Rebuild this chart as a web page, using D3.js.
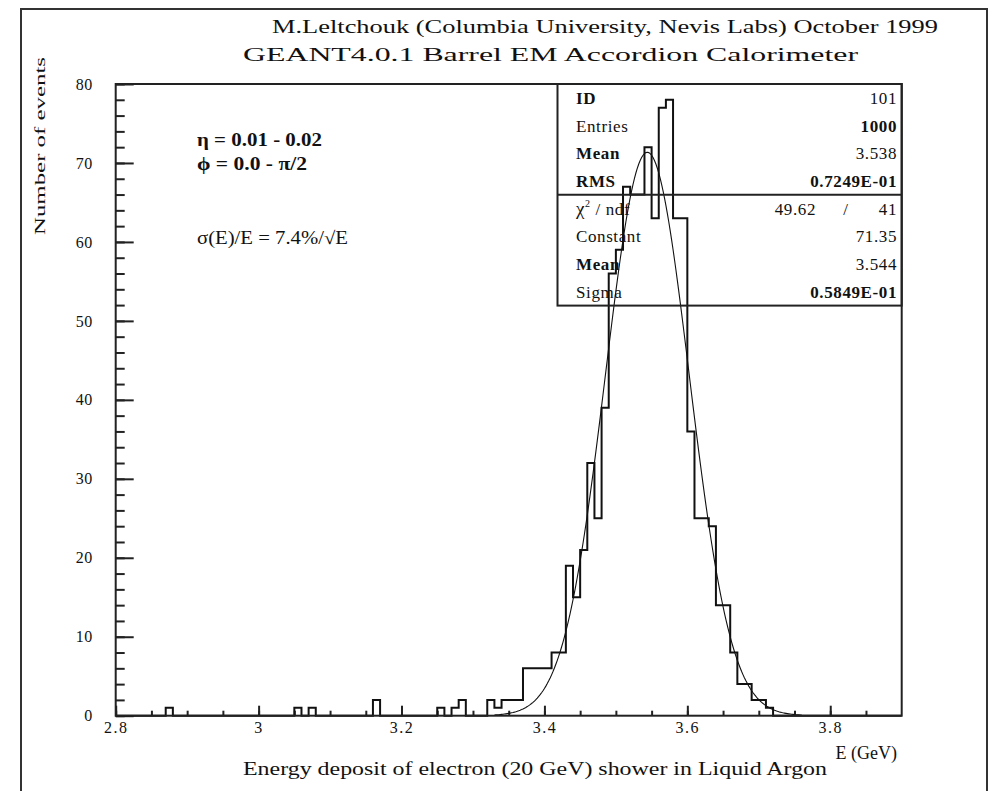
<!DOCTYPE html>
<html>
<head>
<meta charset="utf-8">
<title>GEANT4.0.1 Barrel EM Accordion Calorimeter</title>
<style>
  body { margin: 0; background: #fff; }
  svg text { font-family: "Liberation Serif", "DejaVu Serif", serif; fill: #111; }
  .frame { fill: none; stroke: #222; stroke-width: 2px; }
  .outer { fill: none; stroke: #333; stroke-width: 2px; }
  .hist { fill: none; stroke: #111; stroke-width: 2px; }
  .fit { fill: none; stroke: #111; stroke-width: 1.1px; }
  .tick line { stroke: #222; stroke-width: 2px; }
  .tick text { font-size: 16px; font-family: "Liberation Serif", serif; fill: #111; }
  .stat { font-size: 17px; letter-spacing: 0.6px; }
  .b { font-weight: bold; }
</style>
</head>
<body>
<svg width="1001" height="791"></svg>
<script src="https://d3js.org/d3.v7.min.js"></script>
<script>
// histogram: lower edge of each non empty bin (GeV), bin width 0.01 GeV
var binStart = [2.87, 3.05, 3.07, 3.16, 3.25, 3.27, 3.28,
                3.32, 3.33, 3.34, 3.35, 3.36, 3.37, 3.38, 3.39, 3.40,
                3.41, 3.42, 3.43, 3.44, 3.45, 3.46, 3.47, 3.48, 3.49,
                3.50, 3.51, 3.52, 3.53, 3.54, 3.55, 3.56, 3.57, 3.58,
                3.59, 3.60, 3.61, 3.62, 3.63, 3.64, 3.65, 3.66, 3.67,
                3.68, 3.69, 3.70, 3.71];
var binCount = [1, 1, 1, 2, 1, 1, 2,
                2, 1, 2, 2, 2, 6, 6, 6, 6,
                8, 8, 19, 15, 21, 32, 25, 39, 56,
                59, 67, 66, 66, 72, 63, 77, 78, 63,
                63, 36, 25, 25, 24, 14, 14, 8, 4,
                4, 2, 2, 1];

// gaussian fit as printed in the stats box: constant, mean, sigma
var fitPar = [71.35, 3.544, 0.05849];
var fitRange = [3.33, 3.76];

var xTicks = [2.8, 3, 3.2, 3.4, 3.6, 3.8];
var yTicks = [0, 10, 20, 30, 40, 50, 60, 70, 80];

// [label, value, label bold, value bold]
var statRows = [["ID", "101", 1, 0], ["Entries", "1000", 0, 1], ["Mean", "3.538", 1, 0], ["RMS", "0.7249E-01", 1, 1]];
var fitRows = [["Constant", "71.35", 0, 0], ["Mean", "3.544", 1, 0], ["Sigma", "0.5849E-01", 0, 1]];
var chi2Row = ["49.62", "/", "41"];

var svg = d3.select("svg");
svg.append("rect").attr("width", 1001).attr("height", 791).attr("fill", "#fff");

// outer picture border
svg.append("path").attr("class", "outer")
    .attr("d", "M21,791V9H987V791");

var x = d3.scaleLinear().domain([2.8, 3.9]).range([115.7, 901.7]);
var y = d3.scaleLinear().domain([0, 80]).range([715.7, 84]);

// minor ticks
svg.append("g")
    .attr("transform", "translate(0," + y(0) + ")")
    .call(d3.axisBottom(x).tickValues(d3.range(0, 22).map(function(i) { return 2.8 + i * 0.05; }))
        .tickSize(-5).tickFormat(""))
    .call(function(g) { g.select(".domain").remove(); });
svg.append("g")
    .attr("transform", "translate(" + x(2.8) + ",0)")
    .call(d3.axisLeft(y).tickValues(d3.range(0, 41).map(function(i) { return i * 2; }))
        .tickSize(-9).tickFormat(""))
    .call(function(g) { g.select(".domain").remove(); });

// major ticks and labels
var xAxis = svg.append("g")
    .attr("transform", "translate(0," + y(0) + ")")
    .call(d3.axisBottom(x).tickValues(xTicks).tickSize(-10).tickPadding(6)
        .tickFormat(d3.format("~g")));
xAxis.select(".domain").remove();
xAxis.selectAll("text").attr("letter-spacing", 1.5);

var yAxis = svg.append("g")
    .attr("transform", "translate(" + x(2.8) + ",0)")
    .call(d3.axisLeft(y).tickValues(yTicks).tickSize(-18).tickPadding(23));
yAxis.select(".domain").remove();
yAxis.selectAll("text").attr("letter-spacing", 0.5);

// histogram outline
var counts = d3.range(110).map(function() { return 0; });
binStart.forEach(function(e, i) { counts[Math.round((e - 2.8) / 0.01)] = binCount[i]; });
var pts = counts.map(function(c, k) { return [2.8 + k * 0.01, c]; });
pts.push([3.9, counts[109]]);
var step = d3.line().curve(d3.curveStepAfter)
    .x(function(d) { return x(d[0]); })
    .y(function(d) { return y(d[1]); });
svg.append("path").attr("class", "hist").attr("d", step(pts));

// fit curve
var gauss = function(e) {
    var z = (e - fitPar[1]) / fitPar[2];
    return fitPar[0] * Math.exp(-0.5 * z * z);
};
var fitPts = d3.range(fitRange[0], fitRange[1] + 1e-9, 0.002).map(function(e) { return [e, gauss(e)]; });
svg.append("path").attr("class", "fit")
    .attr("d", d3.line().x(function(d) { return x(d[0]); }).y(function(d) { return y(d[1]); })(fitPts));

// stats box
var bx0 = 557.5, bx1 = x(3.9), by0 = y(80), rowH = 27.7;
svg.append("rect").attr("fill", "none")
    .attr("x", bx0).attr("y", by0).attr("width", bx1 - bx0).attr("height", rowH * 8)
    .attr("stroke", "#222").attr("stroke-width", 2);
svg.append("line").attr("x1", bx0).attr("x2", bx1)
    .attr("y1", by0 + rowH * 4).attr("y2", by0 + rowH * 4)
    .attr("stroke", "#222").attr("stroke-width", 2);

var rows = statRows.concat([["χ2/ndf", "", 0, 0]], fitRows);
rows.forEach(function(r, i) {
    var yy = by0 + rowH * (i + 0.5) + 6;
    if (i === 4) {
        var t = svg.append("text").attr("class", "stat").attr("x", 576).attr("y", yy);
        t.append("tspan").attr("font-size", 19).text("χ");
        t.append("tspan").attr("dy", -8).attr("font-size", 10).text("2");
        t.append("tspan").attr("dy", 8).text(" / ndf");
        svg.append("text").attr("class", "stat").attr("x", 816).attr("y", yy)
            .attr("text-anchor", "end").text(chi2Row[0]);
        svg.append("text").attr("class", "stat").attr("x", 846).attr("y", yy)
            .attr("text-anchor", "middle").text(chi2Row[1]);
        svg.append("text").attr("class", "stat").attr("x", 897).attr("y", yy)
            .attr("text-anchor", "end").text(chi2Row[2]);
        return;
    }
    svg.append("text").attr("class", "stat" + (r[2] ? " b" : "")).attr("x", 576).attr("y", yy).text(r[0]);
    svg.append("text").attr("class", "stat" + (r[3] ? " b" : "")).attr("x", 897).attr("y", yy)
        .attr("text-anchor", "end").text(r[1]);
});

// frame on top
svg.append("rect").attr("class", "frame")
    .attr("x", x(2.8)).attr("y", y(80))
    .attr("width", x(3.9) - x(2.8)).attr("height", y(0) - y(80));

// annotations
svg.append("text").attr("x", 197).attr("y", 146).attr("font-size", 18).attr("font-weight", "bold")
    .attr("textLength", 125).attr("lengthAdjust", "spacingAndGlyphs").text("η = 0.01 - 0.02");
svg.append("text").attr("x", 197).attr("y", 170).attr("font-size", 18).attr("font-weight", "bold")
    .attr("textLength", 110).attr("lengthAdjust", "spacingAndGlyphs").text("ϕ = 0.0 - π/2");
svg.append("text").attr("x", 197).attr("y", 244).attr("font-size", 18)
    .attr("textLength", 151).attr("lengthAdjust", "spacingAndGlyphs").text("σ(E)/E = 7.4%/√E");

// titles
svg.append("text").attr("x", 272).attr("y", 33).attr("font-size", 19)
    .attr("textLength", 666).attr("lengthAdjust", "spacingAndGlyphs")
    .text("M.Leltchouk (Columbia University, Nevis Labs)  October 1999");
svg.append("text").attr("x", 243).attr("y", 61).attr("font-size", 19)
    .attr("textLength", 615).attr("lengthAdjust", "spacingAndGlyphs")
    .text("GEANT4.0.1  Barrel EM  Accordion Calorimeter");

// axis titles
svg.append("text").attr("transform", "translate(45,57) rotate(-90)")
    .attr("text-anchor", "end").attr("font-size", 15)
    .attr("textLength", 178).attr("lengthAdjust", "spacingAndGlyphs")
    .text("Number of events");
svg.append("text").attr("x", 897).attr("y", 759).attr("font-size", 18)
    .attr("text-anchor", "end").text("E (GeV)");
svg.append("text").attr("x", 243).attr("y", 775).attr("font-size", 18)
    .attr("textLength", 584).attr("lengthAdjust", "spacingAndGlyphs")
    .text("Energy deposit of electron (20 GeV) shower in Liquid Argon");
</script>
</body>
</html>
